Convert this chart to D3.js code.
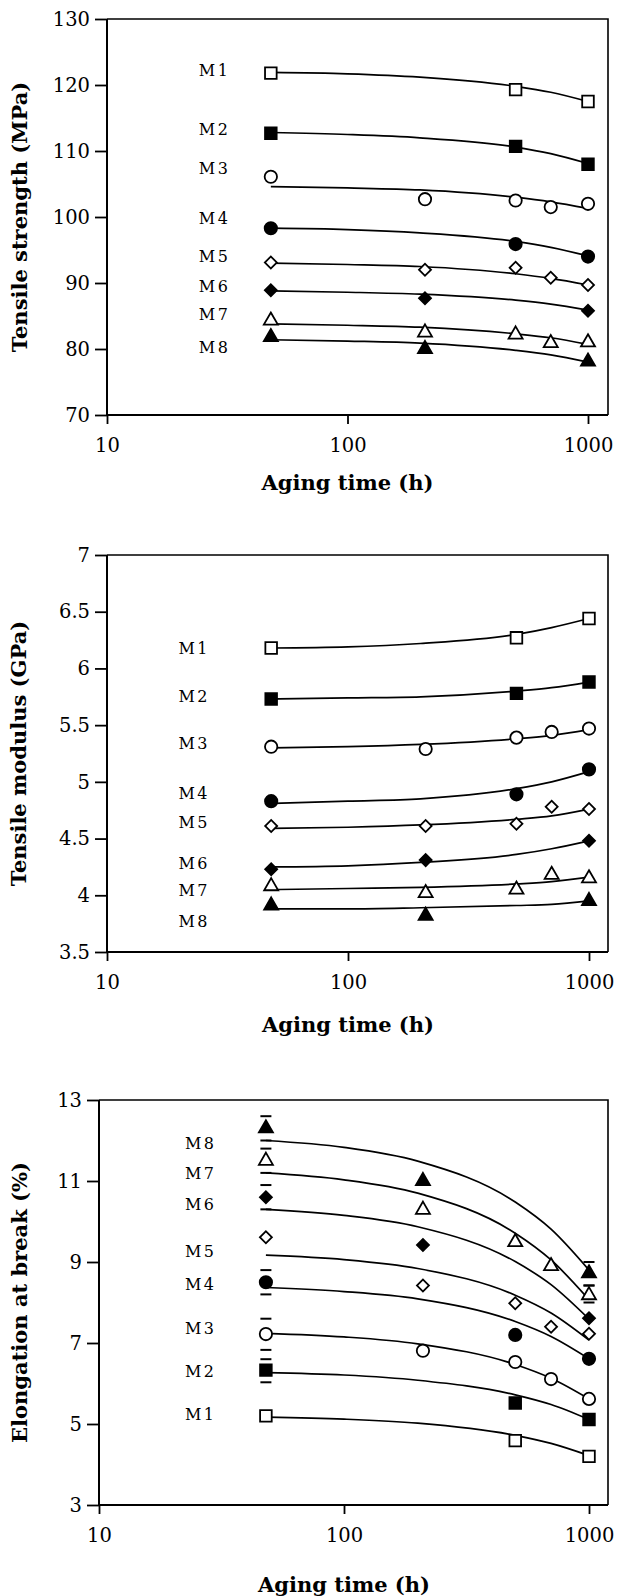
<!DOCTYPE html>
<html>
<head>
<meta charset="utf-8">
<script src="https://cdn.jsdelivr.net/npm/d3@7"></script>
<style>
  body { margin: 0; background: #fff; }
  svg { display: block; }
  text { font-family: "DejaVu Serif", "Liberation Serif", serif; fill: #000; }
  .tick-label { font-size: 19.5px; }
  .axis-title { font-size: 21px; font-weight: bold; }
  .series-label { font-size: 16px; letter-spacing: 2.5px; }
</style>
</head>
<body>
<div id="chart"></div>
<script>
// ---- data ----
var seriesNames = ['M1', 'M2', 'M3', 'M4', 'M5', 'M6', 'M7', 'M8'];
var hours = [48, 210, 500, 700, 1000];          // measured aging times
var fitHours = [48, 100, 200, 500, 700, 1000];  // where the fitted curves were read

var strengthTicks = [70, 80, 90, 100, 110, 120, 130];
var strengthPoints = [
  [121.8, null, 119.3, null, 117.5],
  [112.7, null, 110.7, null, 108.0],
  [106.1, 102.7, 102.5, 101.5, 102.0],
  [98.3, null, 95.9, null, 94.0],
  [93.1, 92.0, 92.3, 90.8, 89.7],
  [88.9, 87.7, null, null, 85.8],
  [84.3, 82.5, 82.2, 80.9, 81.0],
  [81.8, 80.0, null, null, 78.1]
];
var strengthFit = [
  [121.9, 121.7, 121.2, 119.8, 118.9, 117.5],
  [112.8, 112.5, 112.0, 110.6, 109.6, 108.1],
  [104.6, 104.4, 104.1, 103.0, 102.3, 101.3],
  [98.3, 98.1, 97.6, 96.3, 95.4, 94.1],
  [93.0, 92.8, 92.5, 91.4, 90.7, 89.7],
  [88.8, 88.6, 88.3, 87.4, 86.8, 85.9],
  [83.8, 83.6, 83.3, 82.3, 81.7, 80.7],
  [81.4, 81.2, 80.9, 79.8, 79.1, 78.0]
];
var strengthLabelY = [122.2, 113.3, 107.4, 99.8, 94.0, 89.5, 85.3, 80.2];

var modulusTicks = [3.5, 4, 4.5, 5, 5.5, 6, 6.5, 7];
var modulusPoints = [
  [6.18, null, 6.27, null, 6.44],
  [5.73, null, 5.78, null, 5.88],
  [5.31, 5.29, 5.39, 5.44, 5.47],
  [4.83, null, 4.89, null, 5.11],
  [4.61, 4.61, 4.63, 4.78, 4.76],
  [4.23, 4.31, null, null, 4.48],
  [4.08, 4.02, 4.05, 4.18, 4.15],
  [3.91, 3.82, null, null, 3.95]
];
var modulusFit = [
  [6.18, 6.19, 6.22, 6.30, 6.36, 6.44],
  [5.73, 5.74, 5.75, 5.80, 5.83, 5.88],
  [5.30, 5.31, 5.33, 5.38, 5.41, 5.46],
  [4.81, 4.83, 4.85, 4.94, 5.00, 5.09],
  [4.59, 4.60, 4.62, 4.67, 4.70, 4.76],
  [4.25, 4.26, 4.29, 4.36, 4.41, 4.48],
  [4.05, 4.06, 4.07, 4.10, 4.12, 4.16],
  [3.88, 3.88, 3.89, 3.91, 3.92, 3.95]
];
var modulusLabelY = [6.18, 5.75, 5.34, 4.90, 4.64, 4.28, 4.04, 3.77];

var elongTicks = [3, 5, 7, 9, 11, 13];
var elongPoints = [
  [5.20, null, 4.59, null, 4.20],
  [6.33, null, 5.52, null, 5.11],
  [7.22, 6.81, 6.53, 6.11, 5.62],
  [8.50, null, 7.20, null, 6.61],
  [9.61, 8.42, 7.98, 7.40, 7.23],
  [10.6, 9.42, null, null, 7.61],
  [11.5, 10.29, 9.49, 8.90, 8.18],
  [12.3, 11.0, null, null, 8.72]
];
var elongFit = [
  [5.17, 5.12, 5.02, 4.72, 4.52, 4.22],
  [6.27, 6.21, 6.08, 5.72, 5.48, 5.11],
  [7.24, 7.15, 6.98, 6.47, 6.13, 5.62],
  [8.37, 8.27, 8.09, 7.53, 7.16, 6.61],
  [9.17, 9.06, 8.84, 8.18, 7.74, 7.07],
  [10.30, 10.15, 9.87, 9.01, 8.44, 7.59],
  [11.20, 11.03, 10.70, 9.71, 9.05, 8.07],
  [12.00, 11.83, 11.49, 10.48, 9.81, 8.80]
];
var elongLabelY = [5.24, 6.29, 7.37, 8.44, 9.26, 10.42, 11.2, 11.94];
// error bar caps (elongation only)
var errHours  = [48, 48, 48, 48, 48, 48, 1000, 1000];
var errLow    = [12.0, 11.2, 10.3, 8.2, 6.83, 6.03, 8.42, 8.0];
var errHigh   = [12.6, 11.8, 10.9, 8.8, 7.6, 6.6, 9.0, 8.42];

var xTicks = [10, 100, 1000];

// ---- drawing ----
var width = 619, height = 1596;
var svg = d3.select('#chart').append('svg')
  .attr('width', width)
  .attr('height', height);

svg.append('rect').attr('width', width).attr('height', height).attr('fill', '#fff');

// open / filled marker style per series
var markerTypes = [d3.symbolSquare, d3.symbolSquare, d3.symbolCircle, d3.symbolCircle,
                   'diamond', 'diamond', d3.symbolTriangle, d3.symbolTriangle];
var markerSize = [135, 135, 120, 120, 72, 72, 85, 85];

function markerPath(i){
  if (markerTypes[i] === 'diamond') return d3.symbol().type(d3.symbolSquare).size(markerSize[i])();
  return d3.symbol().type(markerTypes[i]).size(markerSize[i])();
}

function drawPanel(cfg){
  var x = d3.scaleLog().domain([10, 1000]).range([cfg.left, cfg.x1000]);
  var y = d3.scaleLinear().domain([cfg.ticks[0], cfg.ticks[cfg.ticks.length - 1]]).range([cfg.bottom, cfg.top]);
  var g = svg.append('g');

  // frame (top + right)
  g.append('path')
    .attr('d', 'M' + cfg.left + ',' + cfg.top + 'H' + cfg.right + 'V' + cfg.bottom)
    .attr('fill', 'none').attr('stroke', '#000').attr('stroke-width', 1.6);

  // axes
  var yAxis = d3.axisLeft(y).tickValues(cfg.ticks).tickSize(12).tickPadding(5)
    .tickFormat(function(d){ return String(d); });
  var ya = g.append('g').attr('transform', 'translate(' + cfg.left + ',0)').call(yAxis);
  var xAxis = d3.axisBottom(x).tickValues(xTicks).tickSize(9).tickPadding(14)
    .tickFormat(function(d){ return String(d); });
  var xa = g.append('g').attr('transform', 'translate(0,' + cfg.bottom + ')').call(xAxis);
  [ya, xa].forEach(function(a){
    a.select('.domain').remove();
    a.selectAll('line').attr('stroke', '#000').attr('stroke-width', 1.8);
    a.selectAll('text').attr('class', 'tick-label').attr('fill', '#000')
      .attr('font-family', null).attr('font-size', null);
  });
  g.append('path')
    .attr('d', 'M' + cfg.left + ',' + cfg.top + 'V' + cfg.bottom + 'H' + cfg.right)
    .attr('fill', 'none').attr('stroke', '#000').attr('stroke-width', 2);

  // axis titles
  g.append('text').attr('class', 'axis-title')
    .attr('x', (cfg.left + cfg.x1000) / 2).attr('y', cfg.bottom + cfg.titleGap)
    .attr('text-anchor', 'middle').text('Aging time (h)');
  g.append('text').attr('class', 'axis-title')
    .attr('transform', 'translate(' + cfg.yTitleX + ',' + ((cfg.top + cfg.bottom) / 2) + ') rotate(-90)')
    .attr('text-anchor', 'middle').text(cfg.yTitle);

  // fitted curves
  var line = d3.line()
    .x(function(d, i){ return x(fitHours[i]); })
    .y(function(d){ return y(d); })
    .curve(d3.curveMonotoneX);
  g.selectAll('.fit').data(cfg.fit).enter().append('path')
    .attr('class', 'fit')
    .attr('d', line)
    .attr('fill', 'none').attr('stroke', '#000').attr('stroke-width', 1.7);

  // error bar caps
  if (cfg.errLow){
    cfg.errLow.forEach(function(lo, k){
      var cx = x(cfg.errHours[k]);
      [lo, cfg.errHigh[k]].forEach(function(v){
        g.append('line').attr('class', 'err')
          .attr('x1', cx - 5.5).attr('x2', cx + 5.5).attr('y1', y(v)).attr('y2', y(v))
          .attr('stroke', '#000').attr('stroke-width', 2);
      });
    });
  }

  // markers
  cfg.points.forEach(function(row, i){
    var filled = i % 2 === 1;
    var rot = markerTypes[i] === 'diamond' ? ' rotate(45)' : '';
    g.selectAll('.m' + i).data(row.map(function(v, j){ return {v: v, t: hours[j]}; })
        .filter(function(d){ return d.v !== null; }))
      .enter().append('path')
      .attr('class', 'm' + i)
      .attr('d', markerPath(i))
      .attr('transform', function(d){ return 'translate(' + x(d.t) + ',' + y(d.v) + ')' + rot; })
      .attr('fill', filled ? '#000' : '#fff')
      .attr('stroke', '#000')
      .attr('stroke-width', 1.8);
  });

  // series labels
  g.selectAll('.series-label').data(seriesNames).enter().append('text')
    .attr('class', 'series-label')
    .attr('x', x(cfg.labelHour))
    .attr('y', function(d, i){ return y(cfg.labelY[i]); })
    .attr('dy', '0.35em')
    .attr('text-anchor', 'middle')
    .text(function(d){ return d; });
}

drawPanel({
  left: 107, x1000: 588, right: 608, top: 19, bottom: 415,
  ticks: strengthTicks, points: strengthPoints, fit: strengthFit,
  labelY: strengthLabelY, labelHour: 28,
  yTitle: 'Tensile strength (MPa)', yTitleX: 27, titleGap: 75
});
drawPanel({
  left: 107, x1000: 589, right: 608, top: 555, bottom: 952,
  ticks: modulusTicks, points: modulusPoints, fit: modulusFit,
  labelY: modulusLabelY, labelHour: 23,
  yTitle: 'Tensile modulus (GPa)', yTitleX: 26, titleGap: 80
});
drawPanel({
  left: 99, x1000: 589, right: 608, top: 1100, bottom: 1505,
  ticks: elongTicks, points: elongPoints, fit: elongFit,
  labelY: elongLabelY, labelHour: 26,
  yTitle: 'Elongation at break (%)', yTitleX: 27, titleGap: 87,
  errHours: errHours, errLow: errLow, errHigh: errHigh
});
</script>
</body>
</html>
